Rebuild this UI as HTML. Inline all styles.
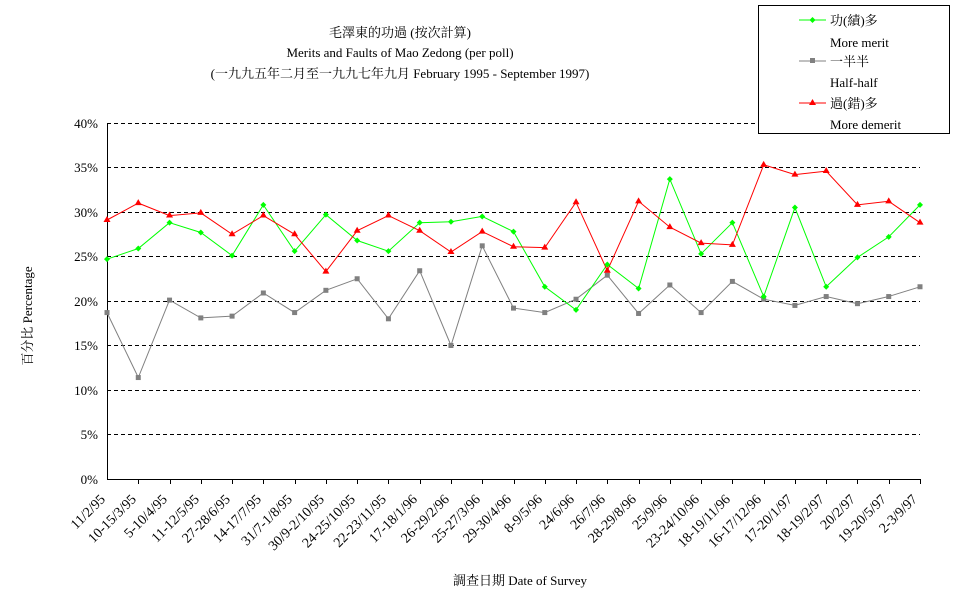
<!DOCTYPE html>
<html><head><meta charset="utf-8"><style>
body{margin:0;background:#fff}
svg{display:block}
text{font-family:"Liberation Serif","Noto Serif CJK SC","Noto Sans CJK TC",serif;font-size:13px;fill:#000}
#xl text{font-size:14px}
</style></head><body>
<svg id="s" width="977" height="600" xmlns="http://www.w3.org/2000/svg">
<rect x="0" y="0" width="977" height="600" fill="#fff"/>
<text x="400" y="37" text-anchor="middle" font-size="14">毛澤東的功過 (按次計算)</text>
<text x="400" y="57" text-anchor="middle">Merits and Faults of Mao Zedong  (per poll)</text>
<text x="400" y="78" text-anchor="middle">(一九九五年二月至一九九七年九月 February 1995 - September 1997)</text>
<g stroke="#000" stroke-dasharray="4,3" stroke-width="1">
<line x1="107" x2="920" y1="123.5" y2="123.5"/><line x1="107" x2="920" y1="167.5" y2="167.5"/>
<line x1="107" x2="920" y1="212.5" y2="212.5"/><line x1="107" x2="920" y1="256.5" y2="256.5"/>
<line x1="107" x2="920" y1="301.5" y2="301.5"/><line x1="107" x2="920" y1="345.5" y2="345.5"/>
<line x1="107" x2="920" y1="390.5" y2="390.5"/><line x1="107" x2="920" y1="434.5" y2="434.5"/>
</g>
<line x1="107.5" x2="107.5" y1="123" y2="479" stroke="#000"/>
<line x1="107" x2="921" y1="479.5" y2="479.5" stroke="#000"/>
<g id="ticks"></g>
<g text-anchor="end">
<text x="98" y="128">40%</text><text x="98" y="172">35%</text><text x="98" y="217">30%</text>
<text x="98" y="261">25%</text><text x="98" y="306">20%</text><text x="98" y="350">15%</text>
<text x="98" y="395">10%</text><text x="98" y="439">5%</text><text x="98" y="484">0%</text>
</g>
<text transform="translate(32,316) rotate(-90)" text-anchor="middle">百分比 Percentage</text>
<text x="520" y="585" text-anchor="middle">調查日期 Date of Survey</text>
<g id="xl" text-anchor="end">
<text transform="translate(106,500) rotate(-45)">11/2/95</text>
<text transform="translate(137,500) rotate(-45)">10-15/3/95</text>
<text transform="translate(168,500) rotate(-45)">5-10/4/95</text>
<text transform="translate(200,500) rotate(-45)">11-12/5/95</text>
<text transform="translate(231,500) rotate(-45)">27-28/6/95</text>
<text transform="translate(262,500) rotate(-45)">14-17/7/95</text>
<text transform="translate(293,500) rotate(-45)">31/7-1/8/95</text>
<text transform="translate(325,500) rotate(-45)">30/9-2/10/95</text>
<text transform="translate(356,500) rotate(-45)">24-25/10/95</text>
<text transform="translate(387,500) rotate(-45)">22-23/11/95</text>
<text transform="translate(418,500) rotate(-45)">17-18/1/96</text>
<text transform="translate(450,500) rotate(-45)">26-29/2/96</text>
<text transform="translate(481,500) rotate(-45)">25-27/3/96</text>
<text transform="translate(512,500) rotate(-45)">29-30/4/96</text>
<text transform="translate(543,500) rotate(-45)">8-9/5/96</text>
<text transform="translate(575,500) rotate(-45)">24/6/96</text>
<text transform="translate(606,500) rotate(-45)">26/7/96</text>
<text transform="translate(637,500) rotate(-45)">28-29/8/96</text>
<text transform="translate(668,500) rotate(-45)">25/9/96</text>
<text transform="translate(700,500) rotate(-45)">23-24/10/96</text>
<text transform="translate(731,500) rotate(-45)">18-19/11/96</text>
<text transform="translate(762,500) rotate(-45)">16-17/12/96</text>
<text transform="translate(793,500) rotate(-45)">17-20/1/97</text>
<text transform="translate(825,500) rotate(-45)">18-19/2/97</text>
<text transform="translate(856,500) rotate(-45)">20/2/97</text>
<text transform="translate(887,500) rotate(-45)">19-20/5/97</text>
<text transform="translate(918,500) rotate(-45)">2-3/9/97</text>
</g>
<g id="series"></g>
<rect x="758.5" y="5.5" width="191" height="128" fill="#fff" stroke="#000"/>
<line x1="799" x2="826" y1="20" y2="20" stroke="#00ff00"/><path d="M812.5 17L815.5 20L812.5 23L809.5 20Z" fill="#00ff00"/>
<text x="830" y="25" font-size="14">功(績)多</text><text x="830" y="47">More merit</text>
<line x1="799" x2="826" y1="61" y2="61" stroke="#808080"/><rect x="810" y="58" width="5" height="5" fill="#808080"/>
<text x="830" y="66" font-size="14">一半半</text><text x="830" y="87">Half-half</text>
<line x1="799" x2="826" y1="103" y2="103" stroke="#ff0000"/><path d="M812.5 99L816 105L809 105Z" fill="#ff0000"/>
<text x="830" y="108" font-size="14">過(錯)多</text><text x="830" y="129">More demerit</text>
</svg>
<script>
var g=[24.7,25.9,28.8,27.7,25.1,30.8,25.6,29.7,26.8,25.6,28.8,28.9,29.5,27.8,21.6,19.0,24.1,21.4,33.7,25.3,28.8,20.5,30.5,21.6,24.9,27.2,30.8];
var h=[18.7,11.4,20.1,18.1,18.3,20.9,18.7,21.2,22.5,18.0,23.4,15.0,26.2,19.2,18.7,20.2,22.9,18.6,21.8,18.7,22.2,20.2,19.5,20.5,19.7,20.5,21.6];
var r=[29.1,31.0,29.6,29.9,27.5,29.6,27.5,23.3,27.9,29.6,27.9,25.5,27.8,26.1,26.0,31.1,23.4,31.2,28.3,26.5,26.3,35.3,34.2,34.6,30.8,31.2,28.8];
var s='';
function X(i){return 107+i*813/26}function Y(v){return 479-v*8.9}
var t='';for(var i=1;i<27;i++){var x=Math.round(X(i))+0.5;t+='<line x1="'+x+'" x2="'+x+'" y1="479" y2="484" stroke="#000"/>';}
document.getElementById('ticks').innerHTML=t;
function line(d,c){return '<polyline fill="none" stroke="'+c+'" points="'+d.map(function(v,i){return X(i).toFixed(1)+','+Y(v).toFixed(1)}).join(' ')+'"/>'}
s+=line(h,'#808080')+line(g,'#00ff00')+line(r,'#ff0000');
h.forEach(function(v,i){s+='<rect x="'+(X(i)-2.5)+'" y="'+(Y(v)-2.5)+'" width="5" height="5" fill="#808080"/>'});
g.forEach(function(v,i){var x=X(i),y=Y(v);s+='<path d="M'+x+' '+(y-3)+'L'+(x+3)+' '+y+'L'+x+' '+(y+3)+'L'+(x-3)+' '+y+'Z" fill="#00ff00"/>'});
r.forEach(function(v,i){var x=X(i),y=Y(v);s+='<path d="M'+x+' '+(y-4)+'L'+(x+3.5)+' '+(y+2)+'L'+(x-3.5)+' '+(y+2)+'Z" fill="#ff0000"/>'});
document.getElementById('series').innerHTML=s;
</script>
</body></html>
